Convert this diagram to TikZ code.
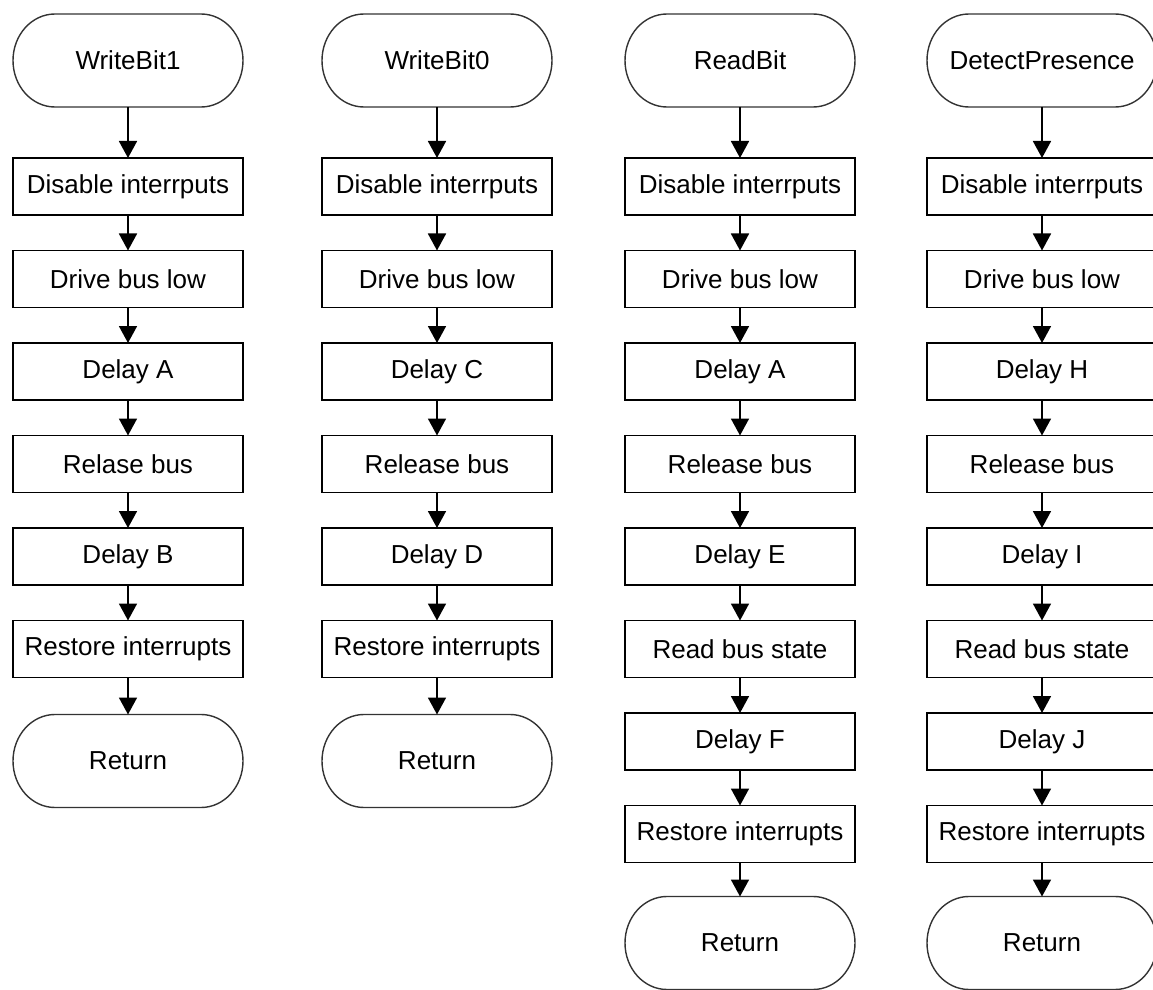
\documentclass[tikz,border=0pt]{standalone}
\usepackage{fontspec}
\setmainfont{Liberation Sans}
\usetikzlibrary{arrows.meta}
\tikzset{
  boxnode/.style={draw=black, line width=0.9pt, minimum width=115pt, minimum height=28.5pt, inner sep=0pt, outer sep=0pt, font=\fontsize{13pt}{15pt}\selectfont, text=black},
  termtext/.style={draw=none, minimum width=115pt, minimum height=46.5pt, inner sep=0pt, outer sep=0pt, font=\fontsize{13pt}{15pt}\selectfont, text=black},
  termline/.style={draw=black!80, line width=0.7pt},
  flow/.style={line width=0.9pt, -{Triangle[width=9pt,length=8.5pt]}}
}
\newcommand\termnode[4]{%
  \node[termtext] (#1) at (#2,#3) {#4};
  \draw[termline] ([xshift=21pt]#1.north west) -- ([xshift=-21pt]#1.north east)
    arc[start angle=90,end angle=-90,x radius=21pt,y radius=23.25pt]
    -- ([xshift=21pt]#1.south west)
    arc[start angle=270,end angle=90,x radius=21pt,y radius=23.25pt] -- cycle;
}
\begin{document}
\begin{tikzpicture}[x=0.5pt,y=-0.5pt]
\useasboundingbox (0,0) rectangle (1153,990);
\begin{scope}
\clip (0,0) rectangle (1153,990);
% Column 1
\termnode{ta}{128}{60.5}{WriteBit1}
\node[boxnode] (a1) at (128,186.5) {Disable interrputs};
\node[boxnode] (a2) at (128,279) {Drive bus low};
\node[boxnode] (a3) at (128,371.5) {Delay A};
\node[boxnode] (a4) at (128,464) {Relase bus};
\node[boxnode] (a5) at (128,556.5) {Delay B};
\node[boxnode] (a6) at (128,649) {Restore interrupts};
\termnode{ra}{128}{761}{Return}
\draw[flow] (ta) -- (a1);
\draw[flow] (a1) -- (a2);
\draw[flow] (a2) -- (a3);
\draw[flow] (a3) -- (a4);
\draw[flow] (a4) -- (a5);
\draw[flow] (a5) -- (a6);
\draw[flow] (a6) -- (ra);
% Column 2
\termnode{tb}{437}{60.5}{WriteBit0}
\node[boxnode] (b1) at (437,186.5) {Disable interrputs};
\node[boxnode] (b2) at (437,279) {Drive bus low};
\node[boxnode] (b3) at (437,371.5) {Delay C};
\node[boxnode] (b4) at (437,464) {Release bus};
\node[boxnode] (b5) at (437,556.5) {Delay D};
\node[boxnode] (b6) at (437,649) {Restore interrupts};
\termnode{rb}{437}{761}{Return}
\draw[flow] (tb) -- (b1);
\draw[flow] (b1) -- (b2);
\draw[flow] (b2) -- (b3);
\draw[flow] (b3) -- (b4);
\draw[flow] (b4) -- (b5);
\draw[flow] (b5) -- (b6);
\draw[flow] (b6) -- (rb);
% Column 3
\termnode{tc}{740}{60.5}{ReadBit}
\node[boxnode] (c1) at (740,186.5) {Disable interrputs};
\node[boxnode] (c2) at (740,279) {Drive bus low};
\node[boxnode] (c3) at (740,371.5) {Delay A};
\node[boxnode] (c4) at (740,464) {Release bus};
\node[boxnode] (c5) at (740,556.5) {Delay E};
\node[boxnode] (c6) at (740,649) {Read bus state};
\node[boxnode] (c7) at (740,741.5) {Delay F};
\node[boxnode] (c8) at (740,834) {Restore interrupts};
\termnode{rc}{740}{943}{Return}
\draw[flow] (tc) -- (c1);
\draw[flow] (c1) -- (c2);
\draw[flow] (c2) -- (c3);
\draw[flow] (c3) -- (c4);
\draw[flow] (c4) -- (c5);
\draw[flow] (c5) -- (c6);
\draw[flow] (c6) -- (c7);
\draw[flow] (c7) -- (c8);
\draw[flow] (c8) -- (rc);
% Column 4
\termnode{td}{1042}{60.5}{DetectPresence}
\node[boxnode] (d1) at (1042,186.5) {Disable interrputs};
\node[boxnode] (d2) at (1042,279) {Drive bus low};
\node[boxnode] (d3) at (1042,371.5) {Delay H};
\node[boxnode] (d4) at (1042,464) {Release bus};
\node[boxnode] (d5) at (1042,556.5) {Delay I};
\node[boxnode] (d6) at (1042,649) {Read bus state};
\node[boxnode] (d7) at (1042,741.5) {Delay J};
\node[boxnode] (d8) at (1042,834) {Restore interrupts};
\termnode{rd}{1042}{943}{Return}
\draw[flow] (td) -- (d1);
\draw[flow] (d1) -- (d2);
\draw[flow] (d2) -- (d3);
\draw[flow] (d3) -- (d4);
\draw[flow] (d4) -- (d5);
\draw[flow] (d5) -- (d6);
\draw[flow] (d6) -- (d7);
\draw[flow] (d7) -- (d8);
\draw[flow] (d8) -- (rd);
\end{scope}
\end{tikzpicture}
\end{document}
